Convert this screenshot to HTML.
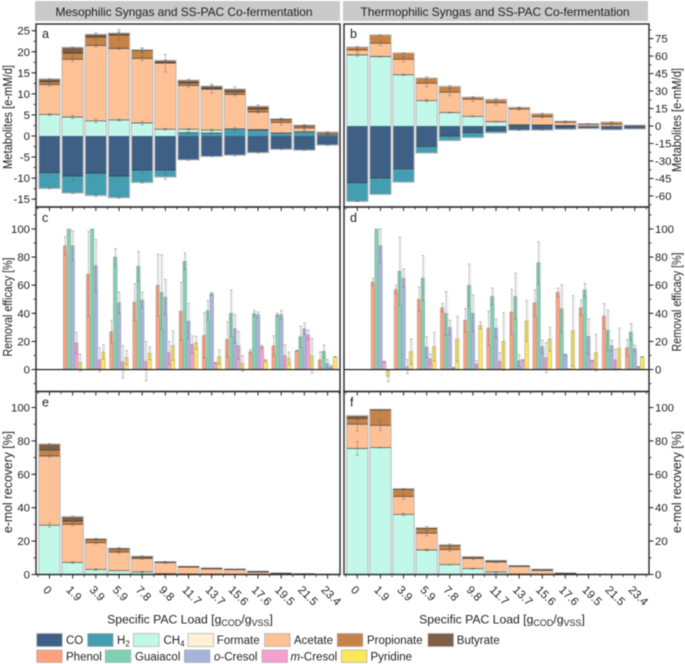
<!DOCTYPE html>
<html lang="en">
<head>
<meta charset="utf-8">
<title>Syngas and SS-PAC Co-fermentation</title>
<style>
html,body{margin:0;padding:0;background:#fff;width:685px;height:664px;overflow:hidden}
svg{display:block;filter:blur(.4px)}
text{font-family:"Liberation Sans",Arial,sans-serif;fill:#222}
</style>
</head>
<body>
<svg id="chart" xmlns="http://www.w3.org/2000/svg" width="685" height="664" viewBox="0 0 685 664">
  <rect x="35" y="1" width="305" height="20" fill="#c9c9c9"/>
  <rect x="343" y="1" width="305" height="20" fill="#c9c9c9"/>
  <text x="184" y="16" font-size="12" text-anchor="middle" textLength="257">Mesophilic Syngas and SS-PAC Co-fermentation</text>
  <text x="495" y="16" font-size="12" text-anchor="middle" textLength="269">Thermophilic Syngas and SS-PAC Co-fermentation</text>

  <text transform="translate(12,117) rotate(-90)" font-size="12.5" text-anchor="middle" textLength="104" lengthAdjust="spacingAndGlyphs">Metabolites [e-mM/d]</text>
  <text transform="translate(681,120) rotate(-90)" font-size="12.5" text-anchor="middle" textLength="104" lengthAdjust="spacingAndGlyphs">Metabolites [e-mM/d]</text>
  <text transform="translate(12,307) rotate(-90)" font-size="12.5" text-anchor="middle" textLength="99" lengthAdjust="spacingAndGlyphs">Removal efficacy [%]</text>
  <text transform="translate(681,302) rotate(-90)" font-size="12.5" text-anchor="middle" textLength="99" lengthAdjust="spacingAndGlyphs">Removal efficacy [%]</text>
  <text transform="translate(12,482) rotate(-90)" font-size="12.5" text-anchor="middle" textLength="102" lengthAdjust="spacingAndGlyphs">e-mol recovery [%]</text>
  <text transform="translate(681,482) rotate(-90)" font-size="12.5" text-anchor="middle" textLength="102" lengthAdjust="spacingAndGlyphs">e-mol recovery [%]</text>

  <text x="190" y="623.5" font-size="12.2" text-anchor="middle">Specific PAC Load [g<tspan dy="2.5" font-size="9">COD</tspan><tspan dy="-2.5">/g</tspan><tspan dy="2.5" font-size="9">VSS</tspan><tspan dy="-2.5">]</tspan></text>
  <text x="502" y="623.5" font-size="12.2" text-anchor="middle">Specific PAC Load [g<tspan dy="2.5" font-size="9">COD</tspan><tspan dy="-2.5">/g</tspan><tspan dy="2.5" font-size="9">VSS</tspan><tspan dy="-2.5">]</tspan></text>

  <g>
    <rect x="36.7" y="633.5" width="25.5" height="13" fill="#3f6085" stroke="#aaa" stroke-width=".7"/>
    <text x="66" y="644" font-size="11.5">CO</text>
    <rect x="87.6" y="633.5" width="25.5" height="13" fill="#449eb2" stroke="#aaa" stroke-width=".7"/>
    <text x="117" y="644" font-size="11.5">H<tspan dy="2.5" font-size="8">2</tspan></text>
    <rect x="133.5" y="633.5" width="25.5" height="13" fill="#c2f8ea" stroke="#aaa" stroke-width=".7"/>
    <text x="163.5" y="644" font-size="11.5">CH<tspan dy="2.5" font-size="8">4</tspan></text>
    <rect x="188" y="633.5" width="25.5" height="13" fill="#fdf2d5" stroke="#aaa" stroke-width=".7"/>
    <text x="216.8" y="644" font-size="11.5">Formate</text>
    <rect x="264.6" y="633.5" width="25.5" height="13" fill="#fec195" stroke="#aaa" stroke-width=".7"/>
    <text x="294" y="644" font-size="11.5">Acetate</text>
    <rect x="337.3" y="633.5" width="25.5" height="13" fill="#c68247" stroke="#aaa" stroke-width=".7"/>
    <text x="367" y="644" font-size="11.5">Propionate</text>
    <rect x="428" y="633.5" width="25.5" height="13" fill="#7f5f45" stroke="#aaa" stroke-width=".7"/>
    <text x="456.8" y="644" font-size="11.5">Butyrate</text>
    <rect x="36.7" y="650" width="25.5" height="12.5" fill="#fda07f" stroke="#aaa" stroke-width=".7"/>
    <text x="66" y="660.5" font-size="11.5">Phenol</text>
    <rect x="105.3" y="650" width="25.5" height="12.5" fill="#80d0b2" stroke="#aaa" stroke-width=".7"/>
    <text x="135" y="660.5" font-size="11.5">Guaiacol</text>
    <rect x="184.4" y="650" width="25.5" height="12.5" fill="#a5b5da" stroke="#aaa" stroke-width=".7"/>
    <text x="214" y="660.5" font-size="11.5"><tspan font-style="italic">o</tspan>-Cresol</text>
    <rect x="262" y="650" width="25.5" height="12.5" fill="#f6a0d0" stroke="#aaa" stroke-width=".7"/>
    <text x="290.5" y="660.5" font-size="11.5"><tspan font-style="italic">m</tspan>-Cresol</text>
    <rect x="341.3" y="650" width="25.5" height="12.5" fill="#fde75a" stroke="#aaa" stroke-width=".7"/>
    <text x="370.5" y="660.5" font-size="11.5">Pyridine</text>
  </g>
</svg>
<script>
// ---------- shared categories ----------
const categories = ['0','1.9','3.9','5.9','7.8','9.8','11.7','13.7','15.6','17.6','19.5','21.5','23.4'];

// ---------- panel a: mesophilic metabolites [e-mM/d] ----------
const aCO       = [-8.7,-9.5,-8.8,-9.5,-8.1,-8.1,-5.6,-4.8,-4.5,-3.9,-3.1,-3.3,-2.1];
const aH2       = [-3.7,-4,-5.3,-5.1,-2.9,-1.6,0.8,0.7,1.7,1.4,0.7,1,0.3];
const aCH4      = [5.1,4.5,3.6,3.8,3.1,1.6,0.8,0.7,0,0.1,0,0,0];
const aAcetate  = [7.1,13.7,17.9,17,15.3,15.7,10.4,9.7,8.2,4.2,2.5,0.9,0.3];
const aPropionate = [0.7,1.5,2,3.2,1.9,0.1,0.6,0.2,0.6,0.7,0.7,0.5,0.3];
const aButyrate = [0.6,1.3,0.6,0.4,0.1,0.5,0.6,0.5,0.6,0.6,0.1,0.1,0];
const aCOErr    = [0.4,1.1,0.9,0.2,0.8,0.5,0.2,0.1,0.2,0.1,0.1,0.1,0.1];
const aH2Err    = [0.15,0.2,0.3,0.2,0.2,0.6,0.2,0.1,0.3,0.1,0.1,0.2,0.2];
const aCH4Err   = [0.2,0.4,0.4,0.2,0.4,0.2,0.2,0.2,0.2,0.1,0,0,0];
const aAcetateErr = [0.3,0.5,0.4,0.2,0.5,2.1,0.5,0.9,0.4,0.2,0.6,0.4,0.1];
const aPropionateErr = [0.3,0.4,0.6,1.3,0.6,0.1,0.2,0.2,0.4,0.3,0.2,0.3,0.1];
const aButyrateErr = [0.1,0.1,0.4,0.3,0.5,0.1,0.3,0.5,0.6,0.4,0.2,0.1,0.1];

// ---------- panel b: thermophilic metabolites [e-mM/d] ----------
const bCO       = [-48.7,-44.7,-36.7,-17.5,-8.6,-5.7,-4,-3.4,-3.3,-2.6,-2,-3,-2.3];
const bH2       = [-15.8,-13.8,-11.3,-5.5,-3.7,-4,-1.7,0.5,0.5,0.1,0,0,0];
const bCH4      = [61,59.6,44,21.8,11.5,8.3,3.7,0.6,0.4,0.3,0,0,0];
const bAcetate  = [4.3,11.4,13.3,14.9,17.5,14.7,16.3,13.5,7.1,2.9,1.4,1.5,0.1];
const bPropionate = [2.3,7,5.2,4.3,4.8,1.6,2.6,1.2,2.3,0.6,0.4,1.7,0.4];
const bCOErr    = [0.2,0.2,0.5,0.6,1,0.3,0.3,0.3,0.2,0.1,0.1,0.1,0.1];
const bH2Err    = [0.2,0.1,0.1,0.1,0.1,0.1,0.1,0.1,0.1,0,0,0,0];
const bCH4Err   = [1.2,0.4,0.5,1,0.4,0.4,0.3,0.2,0.1,0,0,0,0];
const bAcetateErr = [1.5,2,2.2,3,3,2,2,1,1,0.7,0.3,1.5,0.1];
const bPropionateErr = [0.8,0.2,0.3,1.2,1,0.5,1.2,0.6,0.8,0.3,0.2,0.3,0.1];

// ---------- panel c: mesophilic removal efficacy [%] ----------
const cPhenol   = [null,88,68,27,48,60,41.5,24.3,21.5,12.8,17,13.5,7];
const cGuaiacol = [null,100,100,80,73.5,55,77,42,40,40,39,23.4,13];
const cOCresol  = [null,88,74,47.5,49.5,51.5,34.5,54,29,39,39,29,4.3];
const cMCresol  = [null,19,7,5.5,6,12,18,4.7,17,16.3,10,24.6,2];
const cPyridine = [null,5,12.5,8.5,11.5,17,19,9,4.3,6.4,8,9.7,9];
const cPhenolErr   = [0,6.5,30,8,13,22,20.5,16,12.5,1.5,7,0.3,5.5];
const cGuaiacolErr = [0,0,0,6,10.5,26.5,6,7,16.5,2,1,7.5,4.5];
const cOCresolErr  = [0,10.5,18.5,7.5,5.5,12.5,12.5,1,10,2,3,4,2.8];
const cMCresolErr  = [0,7.5,8.5,11.5,14,8,6,0.3,10,1,7.5,3.5,1];
const cPyridineErr = [0,6,5,5,4.5,10.5,4.5,5,5.5,0.8,4.5,12.5,0.2];

// ---------- panel d: thermophilic removal efficacy [%] ----------
const dPhenol   = [null,62.4,57,50,44,35,29.5,41,47.5,55,44,38,15.6];
const dGuaiacol = [null,100,70,65,40,60,52,52,76,43.3,56.7,28,26.7];
const dOCresol  = [null,88,65,16,30,40,29.5,6.4,16.3,10.6,23.6,17,15];
const dMCresol  = [null,5.7,2,7.6,1.2,4,6,6.8,8.3,0.3,6.4,7,2];
const dPyridine = [null,-4.7,12.8,16.3,21.7,31.4,20,34.5,21.7,27.5,12,15,9];
const dPhenolErr   = [0,2.5,3,8.7,3,8.3,12,16,9.2,3,5.3,9,5.6];
const dGuaiacolErr = [0,0,24,16,15.5,15,6,16.5,14.8,17,4.6,14.3,6];
const dOCresolErr  = [0,12,6.6,7.4,5,13,6.4,4.2,4.5,0.5,12.5,3.8,2.3];
const dMCresolErr  = [0,0.2,5,3.5,0.5,2.4,6,0.3,10.7,0.2,0.2,7.3,0.3];
const dPyridineErr = [0,4,9,10.2,16,2.5,20.5,14.5,8.4,25,13,14.5,0.2];

// ---------- panel e: mesophilic e-mol recovery [%] ----------
const eCH4      = [29.5,7.2,3,2.3,1.5,0.5,0.3,0.2,0.1,0,0,0,0];
const eAcetate  = [41.5,22.8,16,11.1,8.1,6.7,4.1,3.2,2.8,1.4,0.5,0.2,0];
const ePropionate = [3.5,2,2,1.8,0.7,0.1,0.2,0.2,0.1,0.2,0.1,0.1,0];
const eButyrate = [3.5,2.5,0.2,0.4,0.5,0.2,0.2,0.2,0.2,0.3,0.2,0.1,0.1];
const eCH4Err   = [1.2,0.5,0.5,0.1,0.5,0.2,0.1,0.1,0,0,0,0,0];
const eAcetateErr = [0.8,0.8,0.7,0.7,0.6,0.7,0.2,0.2,0.2,0.1,0,0,0];
const ePropionateErr = [0.7,0.3,0.4,0.9,0.5,0,0,0,0,0,0,0,0];
const eButyrateErr = [0.5,0.5,0.4,0.4,0.4,0,0,0,0,0,0,0,0];

// ---------- panel f: thermophilic e-mol recovery [%] ----------
const fCH4      = [75.5,76,36,14.7,5.9,3.5,1.4,0.2,0,0,0,0,0];
const fAcetate  = [14.5,13.3,10.7,10,9,6.1,6.1,4.6,2.5,0.4,0.05,0,0];
const fPropionate = [3.5,9.2,4.3,2.8,2.4,0.6,0.5,0.2,0.3,0.2,0.05,0,0];
const fButyrate = [1.5,0.3,0.2,0.3,0.3,0.3,0.3,0.2,0.2,0.2,0,0,0];
const fCH4Err   = [4,0.2,0.8,0.5,0.2,0.3,0.3,0.1,0,0,0,0,0];
const fAcetateErr = [4.2,3,1.5,1.5,1,0.7,0.5,0.2,0.2,0,0,0,0];
const fPropionateErr = [0.8,0.3,0.5,1.3,1,0.3,0.2,0,0,0,0,0,0];

// ---------- axis tick values ----------
const ticksA = [-15,-10,-5,0,5,10,15,20,25];
const ticksB = [-60,-45,-30,-15,0,15,30,45,60,75];
const ticksPercent = [0,20,40,60,80,100];

const COLORS = {CO:'#3f6085',H2:'#449eb2',CH4:'#c2f8ea',Acetate:'#fec195',Propionate:'#c68247',Butyrate:'#7f5f45',
  Phenol:'#fda07f',Guaiacol:'#80d0b2',OCresol:'#a5b5da',MCresol:'#f6a0d0',Pyridine:'#fde75a'};

const svg = document.getElementById('chart');
const NS = 'http://www.w3.org/2000/svg';

function add(parent, tag, name, attrs){
  const el = document.createElementNS(NS, tag);
  for (const k in attrs) el.setAttribute(k, attrs[k]);
  
  
  parent.appendChild(el);
  return el;
}

function makePanel(id, left, right, top, bottom, dMin, dMax, firstX, stepX, side){
  return {
    id, left, right, top, bottom, side,
    x: i => firstX + stepX * i,
    y: v => bottom - (v - dMin) / (dMax - dMin) * (bottom - top),
    stepX
  };
}

const panelA = makePanel('a', 36, 340, 24, 207, -16.86, 26.6, 49.5, 23.17, 'left');
const panelB = makePanel('b', 344, 649, 24, 207, -69.5, 87.55, 357.3, 23.12, 'right');
const panelC = makePanel('c', 36, 340, 207, 391.5, -15.6, 115.6, 49.5, 23.17, 'left');
const panelD = makePanel('d', 344, 649, 207, 391.5, -15.6, 115.6, 357.3, 23.12, 'right');
const panelE = makePanel('e', 36, 340, 391.5, 574.5, 0, 109.6, 49.5, 23.17, 'left');
const panelF = makePanel('f', 344, 649, 391.5, 574.5, 0, 109.6, 357.3, 23.12, 'right');

function drawErr(g, x, yHi, yLo, series, cap, shadow){
  if (Math.abs(yLo - yHi) < 0.4) return;
  if (shadow){
    add(g, 'line', 'error-shadow-' + series, {x1:x+1.5, x2:x+1.5, y1:yHi, y2:yLo, stroke:'#d8d8d8', 'stroke-width':1.3, opacity:.45});
  }
  add(g, 'line', 'error-bar-' + series, {x1:x, x2:x, y1:yHi, y2:yLo, stroke:'#666', 'stroke-width':.7, opacity:.55});
  add(g, 'line', 'error-cap-top-' + series, {x1:x-cap, x2:x+cap, y1:yHi, y2:yHi, stroke:'#666', 'stroke-width':.7, opacity:.6});
  add(g, 'line', 'error-cap-bottom-' + series, {x1:x-cap, x2:x+cap, y1:yLo, y2:yLo, stroke:'#666', 'stroke-width':.7, opacity:.6});
}

function drawStacked(p, series){
  const g = add(svg, 'g', 'stacked-bars-panel-' + p.id, {});
  const w = 20.7;
  categories.forEach((cat, i) => {
    let pos = 0, neg = 0;
    const cx = p.x(i);
    const ends = [];
    series.forEach(s => {
      const v = s.values[i];
      if (!v) return;
      const from = v > 0 ? pos : neg;
      const to = from + v;
      if (v > 0) pos = to; else neg = to;
      const y1 = p.y(Math.max(from, to)), y2 = p.y(Math.min(from, to));
      add(g, 'rect', 'bar-' + s.name + '-' + cat, {x:cx-w/2, y:y1, width:w, height:Math.max(y2-y1,.3), fill:s.color});
      ends.push({y:p.y(to), v:to, s, e:s.err ? s.err[i] : 0});
    });
    const yTop = p.y(pos), yBot = p.y(neg);
    add(g, 'rect', 'bar-outline-' + cat, {x:cx-w/2-.3, y:yTop-.3, width:w+.6, height:yBot-yTop+.6, fill:'none', stroke:'#b8b8b8', 'stroke-width':1});
    ends.forEach(en => {
      if (en.v !== pos && en.v !== neg){
        add(g, 'line', 'stack-divider-' + en.s.name + '-' + cat, {x1:cx-w/2, x2:cx+w/2, y1:en.y, y2:en.y, stroke:'#2a2a2a', 'stroke-width':.8, opacity:.75});
      }
    });
    ends.forEach(en => {
      if (en.e) drawErr(g, cx, p.y(en.v + en.e), p.y(en.v - en.e), en.s.name + '-' + cat, 1.7, false);
    });
  });
}

function drawGrouped(p, series){
  const g = add(svg, 'g', 'grouped-bars-panel-' + p.id, {});
  const w = 3.75;
  categories.forEach((cat, i) => {
    series.forEach((s, j) => {
      const v = s.values[i];
      if (v === null) return;
      const bx = p.x(i) - 2.5 * w + j * w;
      const y1 = p.y(Math.max(v, 0)), y2 = p.y(Math.min(v, 0));
      add(g, 'rect', 'bar-' + s.name + '-' + cat, {x:bx, y:y1, width:w, height:Math.max(y2-y1,.3), fill:s.color, stroke:'#a0a0a0', 'stroke-width':.5});
    });
    series.forEach((s, j) => {
      const v = s.values[i];
      if (v === null) return;
      const bx = p.x(i) - 2.5 * w + j * w;
      const e = s.err[i];
      if (e) drawErr(g, bx + w/2, p.y(v + e), p.y(v - e), s.name + '-' + cat, 1.3, true);
    });
  });
  add(g, 'line', 'zero-line-panel-' + p.id, {x1:p.left, x2:p.right, y1:p.y(0), y2:p.y(0), stroke:'#111', 'stroke-width':1.2});
}

function drawFrame(p, majors, minorStep, dLow, dHigh){
  const g = add(svg, 'g', 'axes-panel-' + p.id, {});
  add(g, 'rect', 'plot-frame-' + p.id, {x:p.left, y:p.top, width:p.right-p.left, height:p.bottom-p.top, fill:'none', stroke:'#2a2a2a', 'stroke-width':1.4});
  const ax = p.side === 'left' ? p.left : p.right;
  const dir = p.side === 'left' ? -1 : 1;
  majors.forEach(v => {
    add(g, 'line', 'y-tick-' + p.id + '-' + v, {x1:ax, x2:ax+dir*4.5, y1:p.y(v), y2:p.y(v), stroke:'#222', 'stroke-width':1});
    const t = add(g, 'text', 'y-tick-label-' + p.id + '-' + v, {x:ax+dir*6, y:p.y(v)+4, 'font-size':11.4, 'text-anchor':p.side === 'left' ? 'end' : 'start'});
    t.textContent = String(v);
  });
  for (let v = dLow; v <= dHigh + 1e-6; v += minorStep){
    add(g, 'line', 'y-minor-tick-' + p.id, {x1:ax, x2:ax+dir*2.5, y1:p.y(v), y2:p.y(v), stroke:'#222', 'stroke-width':.8});
  }
  categories.forEach((cat, i) => {
    add(g, 'line', 'x-tick-' + p.id + '-' + cat, {x1:p.x(i), x2:p.x(i), y1:p.bottom, y2:p.bottom+4, stroke:'#222', 'stroke-width':1});
    add(g, 'line', 'x-minor-tick-' + p.id, {x1:p.x(i)+p.stepX/2, x2:p.x(i)+p.stepX/2, y1:p.bottom, y2:p.bottom+2.5, stroke:'#222', 'stroke-width':.8});
  });
  add(g, 'line', 'x-minor-tick-start-' + p.id, {x1:p.x(0)-p.stepX/2, x2:p.x(0)-p.stepX/2, y1:p.bottom, y2:p.bottom+2.5, stroke:'#222', 'stroke-width':.8});
  const lbl = add(g, 'text', 'panel-letter-' + p.id, {x:p.left+6, y:p.top+(p.id === 'a' || p.id === 'b' ? 14 : 15), 'font-size':12.5});
  lbl.textContent = p.id;
}

function drawCategoryLabels(p){
  const g = add(svg, 'g', 'x-tick-labels-panel-' + p.id, {});
  categories.forEach((cat, i) => {
    const tx = p.x(i) - 7, ty = 590.5;
    const t = add(g, 'text', 'x-tick-label-' + cat, {transform:'translate(' + tx + ',' + ty + ') rotate(45)', 'font-size':11.5});
    t.textContent = cat;
  });
}

drawStacked(panelA, [
  {name:'co', color:COLORS.CO, values:aCO, err:aCOErr},
  {name:'h2', color:COLORS.H2, values:aH2, err:aH2Err},
  {name:'ch4', color:COLORS.CH4, values:aCH4, err:aCH4Err},
  {name:'acetate', color:COLORS.Acetate, values:aAcetate, err:aAcetateErr},
  {name:'propionate', color:COLORS.Propionate, values:aPropionate, err:aPropionateErr},
  {name:'butyrate', color:COLORS.Butyrate, values:aButyrate, err:aButyrateErr}
]);
drawStacked(panelB, [
  {name:'co', color:COLORS.CO, values:bCO, err:bCOErr},
  {name:'h2', color:COLORS.H2, values:bH2, err:bH2Err},
  {name:'ch4', color:COLORS.CH4, values:bCH4, err:bCH4Err},
  {name:'acetate', color:COLORS.Acetate, values:bAcetate, err:bAcetateErr},
  {name:'propionate', color:COLORS.Propionate, values:bPropionate, err:bPropionateErr}
]);
drawGrouped(panelC, [
  {name:'phenol', color:COLORS.Phenol, values:cPhenol, err:cPhenolErr},
  {name:'guaiacol', color:COLORS.Guaiacol, values:cGuaiacol, err:cGuaiacolErr},
  {name:'o-cresol', color:COLORS.OCresol, values:cOCresol, err:cOCresolErr},
  {name:'m-cresol', color:COLORS.MCresol, values:cMCresol, err:cMCresolErr},
  {name:'pyridine', color:COLORS.Pyridine, values:cPyridine, err:cPyridineErr}
]);
drawGrouped(panelD, [
  {name:'phenol', color:COLORS.Phenol, values:dPhenol, err:dPhenolErr},
  {name:'guaiacol', color:COLORS.Guaiacol, values:dGuaiacol, err:dGuaiacolErr},
  {name:'o-cresol', color:COLORS.OCresol, values:dOCresol, err:dOCresolErr},
  {name:'m-cresol', color:COLORS.MCresol, values:dMCresol, err:dMCresolErr},
  {name:'pyridine', color:COLORS.Pyridine, values:dPyridine, err:dPyridineErr}
]);
drawStacked(panelE, [
  {name:'ch4', color:COLORS.CH4, values:eCH4, err:eCH4Err},
  {name:'acetate', color:COLORS.Acetate, values:eAcetate, err:eAcetateErr},
  {name:'propionate', color:COLORS.Propionate, values:ePropionate, err:ePropionateErr},
  {name:'butyrate', color:COLORS.Butyrate, values:eButyrate, err:eButyrateErr}
]);
drawStacked(panelF, [
  {name:'ch4', color:COLORS.CH4, values:fCH4, err:fCH4Err},
  {name:'acetate', color:COLORS.Acetate, values:fAcetate, err:fAcetateErr},
  {name:'propionate', color:COLORS.Propionate, values:fPropionate, err:fPropionateErr},
  {name:'butyrate', color:COLORS.Butyrate, values:fButyrate, err:[0,0,0,0,0,0,0,0,0,0,0,0,0]}
]);

drawFrame(panelA, ticksA, 2.5, -15, 25);
drawFrame(panelB, ticksB, 7.5, -67.5, 82.5);
drawFrame(panelC, ticksPercent, 10, -10, 110);
drawFrame(panelD, ticksPercent, 10, -10, 110);
drawFrame(panelE, ticksPercent, 10, 0, 100);
drawFrame(panelF, ticksPercent, 10, 0, 100);
drawCategoryLabels(panelE);
drawCategoryLabels(panelF);
</script>
</body>
</html>
